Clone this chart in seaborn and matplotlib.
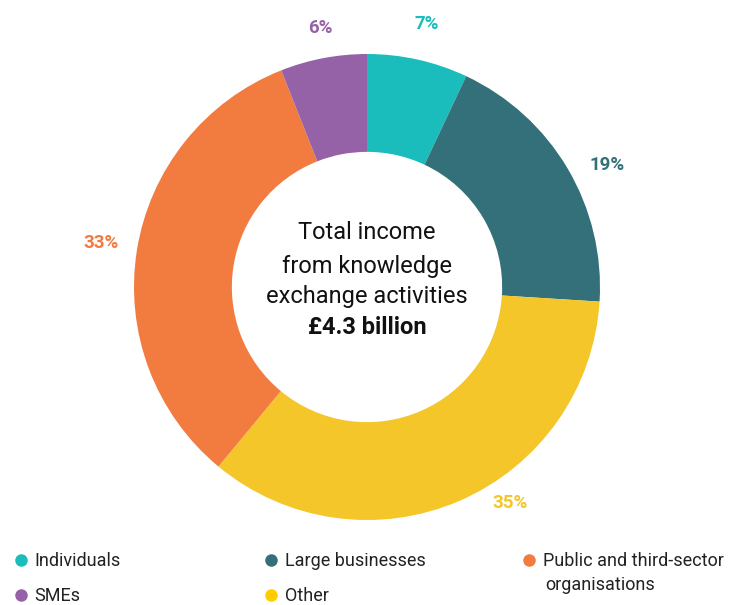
import matplotlib.pyplot as plt
import seaborn as sns
from matplotlib.lines import Line2D
import numpy as np

categorias = ['Individuals', 'Large businesses', 'Other',
              'Public and third-sector', 'SMEs']
porcentajes = [7, 19, 35, 33, 6]
colores = ['#1ABCBC', '#33707A', '#F4C62A', '#F27B40', '#9562A8']
colores_leyenda = ['#1ABCBC', '#33707A', '#FFCC00', '#F27B40', '#9562A8']

# posicion de cada etiqueta: angulo (grados, horario desde arriba) y radio
ang_etiquetas = [12.8, 63.0, 146.5, 279.4, -10.3]
rad_etiquetas = [1.157, 1.155, 1.11, 1.155, 1.13]

lineas_centro = ['Total income', 'from knowledge', 'exchange activities']
total = '£4.3 billion'

sns.set_theme(style='white')
plt.rcParams['font.family'] = ['Roboto', 'DejaVu Sans']

fig = plt.figure(figsize=(7.36, 6.05), dpi=100)
ax = fig.add_axes([134 / 736, 85 / 605, 466 / 736, 466 / 605])

wedges, _ = ax.pie(
    porcentajes, colors=colores, startangle=90, counterclock=False,
    radius=1, wedgeprops={'width': 0.42, 'linewidth': 0},
)
ax.set_xlim(-1, 1)
ax.set_ylim(-1, 1)
ax.set_aspect('equal')
ax.axis('off')

for p, c, a, r in zip(porcentajes, colores, ang_etiquetas, rad_etiquetas):
    t = np.deg2rad(a)
    ax.text(r * np.sin(t), r * np.cos(t), f'{p}%', color=c, fontsize=13.5,
            fontweight='bold', ha='center', va='center', clip_on=False)

for linea, y in zip(lineas_centro, [0.232, 0.09, -0.039]):
    ax.text(0, y, linea, ha='center', va='center', fontsize=17, color='#111111')
ax.text(0, -0.172, total, ha='center', va='center', fontsize=17,
        fontweight='bold', color='#111111')

# leyenda en tres columnas
columnas = [[0, 4], [1, 2], [3]]
xs = [12 / 736, 262 / 736, 520 / 736]
for col, x0 in zip(columnas, xs):
    handles = [Line2D([], [], marker='o', linestyle='', markersize=9,
                      markerfacecolor=colores_leyenda[i], markeredgewidth=0)
               for i in col]
    labels = [categorias[i] for i in col]
    fig.legend(handles, labels, loc='upper left', bbox_to_anchor=(x0, 53 / 605),
               frameon=False, fontsize=13, handletextpad=0.25, handlelength=1.0,
               labelspacing=0.95, borderaxespad=0, borderpad=0,
               labelcolor='#222222')
fig.text(545 / 736, 20 / 605, 'organisations', fontsize=13, color='#222222',
         ha='left', va='center')

fig.savefig('out.png', dpi=100)
